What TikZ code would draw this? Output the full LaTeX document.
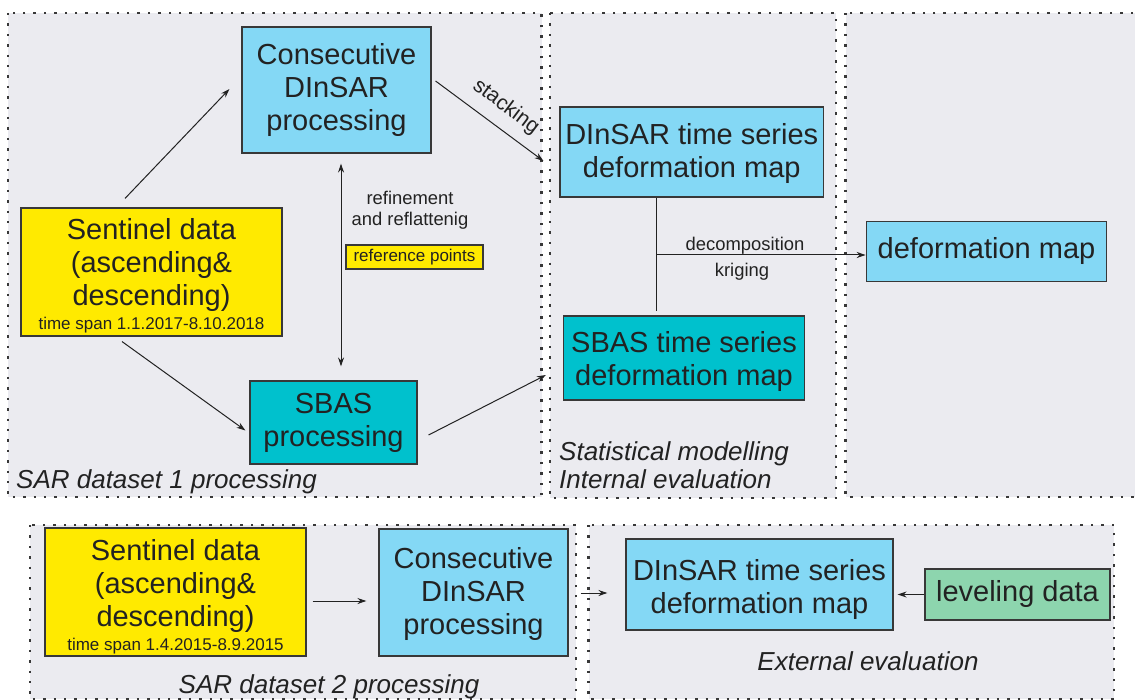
\documentclass[tikz,border=0pt]{standalone}
\usepackage{fontspec}
\setmainfont{Liberation Sans}
\usetikzlibrary{arrows.meta,calc}
\definecolor{lblue}{HTML}{84D8F5}
\definecolor{dcyan}{HTML}{00C1CD}
\definecolor{yel}{HTML}{FFEA00}
\definecolor{grn}{HTML}{8DD5AE}
\definecolor{pfill}{HTML}{EBEBF0}
\definecolor{edge}{HTML}{383838}
\definecolor{ink}{HTML}{222222}
\newcommand\bigf{\fontsize{29}{33}\selectfont}
\newcommand\smallf{\fontsize{17}{21}\selectfont}
\newcommand\midf{\fontsize{18.4}{21}\selectfont}
\newcommand\labf{\fontsize{26}{28}\selectfont\itshape}
\newcommand\pushdown[1]{\rule{0pt}{#1}}
\begin{document}
\begin{tikzpicture}[x=1pt,y=-1pt,
  panel/.style={fill=pfill,draw=edge,line width=2.4pt,dash pattern=on 2.4pt off 8pt},
  box/.style={draw=edge,line width=1.1pt,inner sep=0pt,align=center,font=\bigf,text=ink},
  arr/.style={draw=ink,line width=1pt,-{Stealth[length=9pt,width=6pt]}},
  darr/.style={draw=ink,line width=1pt,{Stealth[length=9pt,width=6pt]}-{Stealth[length=9pt,width=6pt]}},
  conn/.style={draw=ink,line width=1pt},
  lab/.style={font=\midf,text=ink,inner sep=0pt,align=center},
  plab/.style={font=\labf,text=ink,inner sep=0pt}]
\useasboundingbox[fill=white] (0,0) rectangle (1135,700);

% panels
\path[panel] (8,13) rectangle (541.5,497);
\path[panel] (550,13) rectangle (836,498);
\path[panel] (845.5,13) rectangle (1150,497);
\path[panel] (30,525) rectangle (576,699);
\path[panel] (588.5,525) rectangle (1114,699);

% top-left boxes
\node[box,fill=lblue,minimum width=189pt,minimum height=126pt] (c1) at (336.5,90)
  {Consecutive\\DInSAR\\processing};
\node[box,fill=yel,minimum width=261pt,minimum height=128pt] (s1) at (151.5,272)
  {\pushdown{29pt}Sentinel data\\(ascending\&\\descending)\\[-9pt]{\smallf time span 1.1.2017-8.10.2018}};
\node[box,fill=dcyan,minimum width=167pt,minimum height=83pt] (b1) at (333.5,422.5)
  {SBAS\\processing};
\node[box,fill=yel,font=\smallf,minimum width=137pt,minimum height=24pt] (ref) at (414.5,257)
  {reference points};
\node[lab] (refine) at (410,210) {refinement\\and reflattenig};

% middle boxes
\node[box,fill=lblue,minimum width=263.5pt,minimum height=90pt] (d1) at (691.75,152)
  {\pushdown{25pt}DInSAR time series\\deformation map};
\node[box,fill=dcyan,minimum width=241pt,minimum height=84pt] (sb) at (684,358)
  {\pushdown{28pt}SBAS time series\\deformation map};
\node[box,fill=lblue,minimum width=240.5pt,minimum height=59.5pt] (dm) at (986.5,251.5)
  {deformation map};

% bottom boxes
\node[box,fill=yel,minimum width=261pt,minimum height=128pt] (s2) at (175.5,592)
  {\pushdown{31pt}Sentinel data\\(ascending\&\\descending)\\[-9pt]{\smallf time span 1.4.2015-8.9.2015}};
\node[box,fill=lblue,minimum width=189pt,minimum height=127pt] (c2) at (473.5,592.5)
  {\pushdown{25pt}Consecutive\\DInSAR\\processing};
\node[box,fill=lblue,minimum width=267pt,minimum height=91pt] (d2) at (759.5,584.5)
  {\pushdown{31pt}DInSAR time series\\deformation map};
\node[box,fill=grn,minimum width=185pt,minimum height=51pt] (lev) at (1017.5,594.5)
  {leveling data};

% connectors top
\draw[arr] ($(s1.north)+(-26.5,-9)$) -- ($(c1.west)+(-12,-1)$);
\draw[arr] ($(s1.south)+(-29.5,5)$) -- ($(b1.west)+(-4,8)$);
\draw[darr] ($(c1.south)+(4.5,10)$) -- ($(b1.north)+(7.5,-14)$);
\draw[arr] ($(c1.east)+(4,-9)$) -- ($(d1.west)+(-16,9)$);
\node[lab,font=\fontsize{21}{23}\selectfont,rotate=-37] (stk) at (506,107) {stacking};
\draw[arr] ($(b1.east)+(11,12.5)$) -- ($(sb.west)+(-17,17)$);

\coordinate (jn) at (656,255);
\draw[conn] ($(d1.south)+(-35.75,0)$) -- ($(sb.north)+(-28,-4)$);
\draw[arr] (jn) -- (jn -| dm.west);
\node[lab,anchor=base] (dec) at (745,251) {decomposition};
\node[lab,anchor=base] (krig) at (742,277) {kriging};

% connectors bottom
\draw[arr] ($(s2.east)+(6,9)$) -- ($(c2.west)+(-12,8.5)$);
\draw[arr] ($(c2.east)+(12,0.5)$) -- ($(d2.west)+(-18,8.5)$);
\draw[arr] (lev.west) -- ($(lev.west -| d2.east)+(4,0)$);

% panel labels
\node[plab,anchor=base west] (p1) at (16,488) {SAR dataset 1 processing};
\node[plab,anchor=base west] (p2a) at (559,460) {Statistical modelling};
\node[plab,anchor=base west] (p2b) at (559,488) {Internal evaluation};
\node[plab,anchor=base] (p5) at (868,670) {External evaluation};
\node[plab,anchor=base] (p4) at (329,693) {SAR dataset 2 processing};
\end{tikzpicture}
\end{document}
